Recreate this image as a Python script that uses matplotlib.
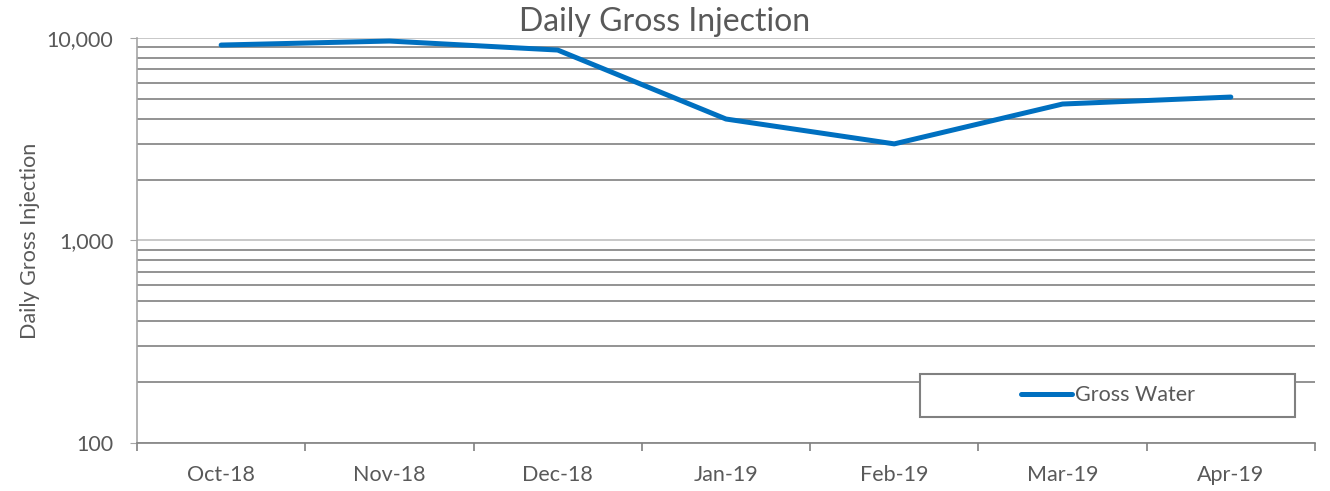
import matplotlib
matplotlib.use("Agg")
import matplotlib.pyplot as plt
from matplotlib.patches import Rectangle
from matplotlib.ticker import FixedLocator, FuncFormatter, LogLocator, NullFormatter

plt.rcParams['font.family'] = ['Lato', 'DejaVu Sans']

months = ['Oct-18', 'Nov-18', 'Dec-18', 'Jan-19', 'Feb-19', 'Mar-19', 'Apr-19']
gross_water = [9230, 9660, 8720, 3980, 3000, 4720, 5110]

text_col = '#595959'
line_col = '#0070C0'

fig = plt.figure(figsize=(13.3, 4.91), dpi=100)
ax = fig.add_axes([0.103, 0.0978, 0.8857, 0.8248])

x = list(range(len(months)))
ax.plot(x, gross_water, color=line_col, linewidth=3.6, solid_capstyle='round',
        solid_joinstyle='round', label='Gross Water', zorder=3)

ax.set_yscale('log')
ax.set_ylim(100, 10000)
ax.set_xlim(-0.5, len(months) - 0.5)

# major gridlines (lighter) and minor gridlines (darker)
ax.yaxis.set_major_locator(LogLocator(base=10))
ax.yaxis.set_minor_locator(LogLocator(base=10, subs=range(2, 10)))
ax.yaxis.set_major_formatter(FuncFormatter(lambda v, p: f'{int(v):,}'))
ax.yaxis.set_minor_formatter(NullFormatter())
ax.grid(True, which='major', axis='y', color='#BFBFBF', linewidth=1.2)
ax.grid(True, which='minor', axis='y', color='#808080', linewidth=1.2)
ax.tick_params(axis='y', which='minor', length=0)
ax.tick_params(axis='y', which='major', length=5, color='#A6A6A6', labelsize=15.5,
               labelcolor=text_col, pad=12)

ax.set_xticks(x)
ax.set_xticklabels(months)
ax.xaxis.set_minor_locator(FixedLocator([i - 0.5 for i in range(len(months) + 1)]))
ax.tick_params(axis='x', which='major', length=0, labelsize=15.5, labelcolor=text_col, pad=16)
ax.tick_params(axis='x', which='minor', length=6, color='#808080', width=1.2)

for side in ['top', 'right']:
    ax.spines[side].set_visible(False)
ax.spines['left'].set_color('#A6A6A6')
ax.spines['left'].set_linewidth(1.2)
ax.spines['bottom'].set_color('#808080')
ax.spines['bottom'].set_linewidth(1.2)

ax.set_ylabel('Daily Gross Injection', fontsize=15.5, color=text_col, labelpad=5)
fig.suptitle('Daily Gross Injection', fontsize=23, color=text_col, y=0.985)

# legend box (frame drawn separately so the entry stays centred)
box = Rectangle((0.665, 0.065), 0.318, 0.105, transform=ax.transAxes,
                facecolor='white', edgecolor='#808080', linewidth=1.5, zorder=4)
ax.add_patch(box)
leg = ax.legend(loc='center', bbox_to_anchor=(0.665 + 0.159, 0.065 + 0.0525),
                frameon=False, fontsize=15.5, handlelength=2.4, handletextpad=0.1)
leg.set_zorder(5)
for t in leg.get_texts():
    t.set_color(text_col)

fig.savefig('out.png', dpi=100)
